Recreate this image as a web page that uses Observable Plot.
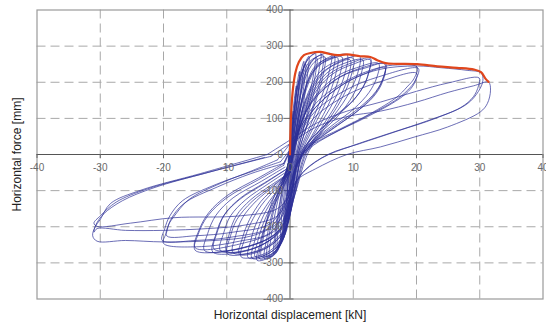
<!DOCTYPE html>
<html>
<head>
<meta charset="utf-8">
<script src="https://cdn.jsdelivr.net/npm/d3@7"></script>
<script src="https://cdn.jsdelivr.net/npm/@observablehq/plot@0.6"></script>
<style>
  html, body { margin: 0; padding: 0; background: #fff; }
  #chart svg { display: block; }
</style>
</head>
<body>
<div id="chart"></div>
<script>
// Tick values
const xTicks = [-40, -30, -20, -10, 0, 10, 20, 30, 40];
const yTicks = [-400, -300, -200, -100, 0, 100, 200, 300, 400];

// Envelope (red) of positive loading
const envelope = [[0,0],[0.18,113],[0.5,187],[0.87,228],[1.4,256],[2.2,275],[3.24,281],[4.8,284],[6.1,279],[7.5,275],[9,277],[11.1,272],[12.7,270],[13.8,261],[15.1,253],[16.9,251],[20.1,250],[23.3,244],[26.4,240],[29.1,235],[30.2,228],[30.9,210],[31.4,201]];

// Hysteresis cycles (blue)
const cycle01 = [[-0.3,-20],[0,40],[0.3,90],[0.5,120],[0.4,80],[0.1,20],[-0.2,-40],[-0.4,-90],[-0.5,-115],[-0.4,-70],[-0.2,-10]];
const cycle02 = [[-0.2,-10],[0.2,60],[0.6,140],[1,190],[0.9,150],[0.5,80],[0.1,0],[-0.3,-80],[-0.7,-150],[-1,-185],[-0.9,-140],[-0.5,-70],[-0.1,0]];
const cycle03 = [[0,0],[0.4,80],[0.9,170],[1.5,230],[1.4,190],[1,120],[0.5,40],[0,-40],[-0.5,-120],[-1,-190],[-1.5,-235],[-1.4,-190],[-1,-120],[-0.5,-50],[0,0]];
const cycle04 = [[0,0],[0.5,90],[1.2,190],[2.2,258],[2,215],[1.5,140],[0.8,50],[0.2,-40],[-0.4,-130],[-1.1,-210],[-2,-258],[-1.9,-210],[-1.4,-140],[-0.7,-60],[0,0]];
const cycle05 = [[0.1,0],[0.6,100],[1.5,210],[3,272],[2.8,225],[2.2,150],[1.3,60],[0.4,-40],[-0.4,-150],[-1.3,-230],[-2.6,-275],[-2.4,-225],[-1.8,-150],[-0.9,-70],[0,-10]];
const cycle06 = [[0.2,0],[0.8,110],[1.8,220],[2.8,262],[4,279],[3.8,230],[3,160],[1.8,70],[0.6,-30],[-0.3,-150],[-1.4,-240],[-2.2,-272],[-3.2,-283],[-3,-230],[-2.2,-150],[-1.1,-70],[0,-20]];
const cycle07 = [[0.2,0],[0.9,120],[2,230],[3.2,272],[4.8,282],[4.6,235],[3.7,165],[2.3,80],[0.8,-20],[-0.2,-150],[-1.4,-245],[-2.6,-280],[-4,-288],[-3.7,-235],[-2.8,-160],[-1.4,-80],[0,-30]];
const cycle08 = [[0.3,0],[1.1,110],[2.4,210],[3.8,255],[5.5,270],[5.3,225],[4.3,160],[2.7,80],[1,-20],[0,-150],[-1.2,-240],[-2.8,-275],[-4.5,-282],[-4.2,-230],[-3.2,-150],[-1.6,-80],[0,-30]];
const cycle09 = [[0.3,0],[1.2,120],[2.6,230],[4.2,270],[6.5,279],[6.2,230],[5,160],[3.2,80],[1.2,-10],[0,-140],[-1.2,-240],[-3,-282],[-5.2,-293],[-4.8,-250],[-4,-200],[-2.5,-140],[-1,-90],[0,-50]];
const cycle10 = [[0,-50],[0.8,40],[1.8,140],[3.5,225],[5.5,258],[7.5,268],[7.2,220],[5.8,150],[3.7,75],[1.5,-10],[0.2,-140],[-1.2,-235],[-3.2,-272],[-5.5,-283],[-5.1,-240],[-4.2,-190],[-2.6,-130],[-1,-85],[0,-50]];
const cycle11 = [[0,-50],[0.8,50],[2,160],[4,245],[6.5,268],[9,276],[8.7,225],[7,150],[4.5,75],[2,0],[0.5,-120],[-1,-220],[-3.5,-270],[-7.7,-284],[-7.2,-235],[-6.2,-190],[-4.5,-140],[-2,-90],[0,-50]];
const cycle12 = [[0,-50],[1,50],[2.5,150],[5,225],[7.5,252],[9.5,262],[9.2,215],[7.5,145],[5,75],[2.3,0],[0.6,-120],[-1,-215],[-4,-262],[-8,-276],[-7.5,-230],[-6.4,-180],[-4.6,-130],[-2,-85],[0,-45]];
const cycle13 = [[0,-45],[1,50],[2.6,150],[5.5,230],[8.5,262],[11,272],[10.7,225],[9,160],[6,85],[3,10],[0.8,-110],[-1,-210],[-4.5,-262],[-9.9,-275],[-9.4,-225],[-8.4,-180],[-6,-130],[-3,-90],[0,-50]];
const cycle14 = [[0,-50],[1.2,50],[3,150],[6,220],[9.5,252],[12.7,266],[12.5,230],[11.8,195],[10,150],[7,105],[4,55],[2,10],[0.8,-90],[-1.2,-200],[-5,-255],[-10,-268],[-9.6,-220],[-8.5,-170],[-6.2,-125],[-3,-85],[0,-50]];
const cycle15 = [[0,-50],[1.3,55],[3.2,150],[6.5,220],[10,250],[12.7,262],[12.4,225],[11.5,185],[9.5,140],[6.5,95],[3.5,45],[1.5,0],[0.3,-100],[-1.5,-210],[-6,-262],[-12.2,-270],[-11.7,-220],[-10.5,-170],[-8,-125],[-4,-80],[-0.5,-40]];
const cycle16 = [[-0.5,-40],[1,50],[3.2,140],[7,205],[11,238],[15,250],[14.7,210],[13.5,170],[11,125],[7.5,80],[4,35],[1.6,-10],[0.2,-110],[-1.5,-205],[-6,-252],[-12,-262],[-11.5,-215],[-10.3,-165],[-7.8,-120],[-4,-78],[-0.5,-40]];
const cycle17 = [[-0.5,-40],[1,50],[3.5,145],[8,215],[12,240],[15.1,252],[14.8,215],[13.6,175],[11,130],[7.5,85],[4,40],[1.5,-15],[0,-120],[-2,-215],[-8,-260],[-15,-265],[-14.5,-220],[-13,-170],[-10,-120],[-5,-70],[-1,-30]];
const cycle18 = [[-1,-30],[1,45],[4,130],[8.5,195],[12,225],[15,240],[14.6,200],[13.2,160],[10.5,118],[7,75],[3.5,30],[1.2,-20],[0,-120],[-2,-205],[-8,-248],[-15,-258],[-14.4,-210],[-12.8,-160],[-9.8,-112],[-5,-65],[-1,-25]];
const cycle19 = [[-1,-25],[1,50],[4,140],[9,205],[14,240],[17,248],[20.1,242],[19.6,210],[18.5,187],[16.9,159],[12.7,113],[7.5,67],[3,25],[1,-30],[-0.5,-130],[-3,-215],[-8,-240],[-14,-255],[-20,-246],[-19.5,-215],[-18.9,-182],[-16.8,-136],[-11.5,-90],[-6.2,-53],[-1,-25]];
const cycle20 = [[-1,-25],[1,40],[4,120],[9,180],[14,215],[20.3,238],[19.8,205],[18.6,178],[16.5,148],[12,105],[7,60],[3,20],[1,-30],[-0.5,-120],[-3,-200],[-9,-228],[-15,-238],[-20.2,-238],[-19.8,-205],[-19,-170],[-17,-128],[-12,-85],[-6.5,-50],[-1.5,-20]];
const cycle21 = [[-1.5,-20],[1,35],[4,105],[9,165],[14,200],[20,225],[19.6,195],[18.3,168],[16,140],[11.5,98],[6.5,55],[3,15],[1,-35],[-0.5,-115],[-3,-190],[-9,-215],[-15,-225],[-19.5,-225],[-19.2,-195],[-18.4,-173],[-16,-125],[-11,-80],[-6,-45],[-2,-15]];
const cycle22 = [[-2,-15],[0,30],[3,110],[8,190],[14,235],[20,245],[24,240],[28,233],[30.2,226],[30.5,205],[29.8,175],[28,140],[23,100],[17,65],[11,30],[6,0],[2,-50],[0,-120],[-2,-190],[-6,-225],[-12,-238],[-20,-242],[-26,-238],[-30.5,-240],[-31.2,-225],[-30.8,-200],[-30,-180],[-28.4,-136],[-23.6,-99],[-14.2,-53],[-3.6,0]];
const cycle23 = [[-3.6,0],[0,40],[4,85],[9,120],[14.3,145],[20,175],[25,198],[29.9,212],[29.8,190],[29,160],[27,130],[22,95],[16,60],[10,25],[5,-10],[1.5,-60],[0,-110],[-2,-170],[-7,-195],[-13,-205],[-20,-210],[-26,-210],[-30.5,-205],[-31,-215],[-30.7,-195],[-29.5,-165],[-26.5,-128],[-21.5,-92],[-13,-50],[-3,-5]];
const cycle24 = [[-3,-5],[0,30],[4,75],[9,105],[14.3,120],[20,145],[25,172],[29,190],[31.4,200],[31.7,178],[31.2,141],[30.1,118],[24.9,76],[19.6,48],[14.3,21],[9,0],[4,-40],[1,-72],[0,-110],[-2,-150],[-8,-170],[-18.4,-175],[-25.2,-190],[-30.5,-199],[-31,-190],[-30,-170],[-27.5,-132],[-22.5,-95],[-13.5,-52],[-4,-8]];
const cycle25 = [[0,-10],[0.5,90],[1.2,185],[2.5,250],[2.3,205],[1.7,130],[0.9,40],[0.2,-60],[-0.5,-150],[-1.3,-225],[-2.3,-262],[-2.1,-205],[-1.5,-130],[-0.7,-50],[0,-10]];
const cycle26 = [[0.1,-5],[0.8,100],[1.8,205],[3,255],[4.2,268],[4,220],[3.2,150],[2,65],[0.7,-35],[-0.3,-160],[-1.5,-245],[-2.5,-275],[-3.6,-284],[-3.3,-225],[-2.5,-150],[-1.2,-75],[0,-20]];
const cycle27 = [[0.2,-10],[1,105],[2.2,215],[3.6,262],[5.2,275],[5,225],[4,155],[2.5,72],[0.9,-25],[-0.1,-150],[-1.3,-238],[-2.8,-276],[-4.8,-289],[-4.5,-240],[-3.6,-180],[-2,-110],[-0.6,-55],[0.2,-10]];
const cycle28 = [[0,-40],[0.9,60],[2,160],[3.8,235],[5.5,263],[7,272],[6.7,225],[5.4,155],[3.4,75],[1.3,-10],[0.1,-140],[-1.2,-238],[-3.1,-277],[-6,-287],[-5.6,-240],[-4.6,-185],[-2.8,-125],[-1.1,-80],[0,-40]];
const cycle29 = [[0,-40],[0.9,55],[2.2,160],[4.2,240],[6.2,262],[8.2,270],[7.9,222],[6.4,150],[4.1,72],[1.8,-5],[0.4,-130],[-1,-230],[-3.3,-273],[-6.6,-286],[-6.2,-238],[-5.2,-185],[-3.3,-130],[-1.3,-85],[0,-45]];
const cycle30 = [[0,-45],[1,50],[2.4,150],[4.8,230],[7.5,258],[10,266],[9.7,220],[8.2,155],[5.5,80],[2.6,5],[0.7,-115],[-1,-215],[-4.2,-262],[-9,-272],[-8.6,-225],[-7.5,-175],[-5.3,-128],[-2.6,-88],[0,-48]];
const cycle31 = [[0,-48],[1.1,50],[2.8,150],[5.8,225],[9,255],[11.5,262],[11.2,220],[10,165],[7.5,105],[4.5,55],[2,5],[0.7,-100],[-1.2,-205],[-5.5,-258],[-11,-266],[-10.5,-218],[-9.4,-170],[-7,-125],[-3.5,-82],[-0.3,-45]];
const cycle32 = [[-0.3,-45],[1.1,50],[3.3,145],[7,212],[10.5,240],[14,252],[13.7,212],[12.5,172],[10.2,128],[7,85],[3.8,40],[1.5,-5],[0.2,-110],[-1.6,-208],[-7,-256],[-13.5,-266],[-13,-218],[-11.7,-168],[-9,-120],[-4.5,-74],[-0.8,-35]];

const cycles = [cycle01, cycle02, cycle03, cycle04, cycle05, cycle25, cycle06, cycle26,
  cycle07, cycle27, cycle08, cycle09, cycle28, cycle10, cycle29, cycle11, cycle12,
  cycle30, cycle13, cycle31, cycle14, cycle15, cycle32, cycle16, cycle17,
  cycle18, cycle19, cycle20, cycle21, cycle22, cycle23, cycle24];

const yTitle = "Horizontal force [mm]";
const xTitle = "Horizontal displacement [kN]";
const xDomain = [-40, 40];
const yDomain = [-400, 400];

const loopRows = cycles.flatMap((c, i) => c.map(([x, y]) => ({x, y, cycle: i})));
const envRows = envelope.map(([x, y]) => ({x, y}));
const xGrid = xTicks.filter(d => d !== 0 && d !== xDomain[0] && d !== xDomain[1]);
const yGrid = yTicks.filter(d => d !== 0 && d !== yDomain[0] && d !== yDomain[1]);

const chart = Plot.plot({
  width: 546,
  height: 328,
  marginLeft: 36.5,
  marginRight: 3.5,
  marginTop: 9.5,
  marginBottom: 29.5,
  x: {domain: xDomain, axis: null},
  y: {domain: yDomain, axis: null},
  style: {fontFamily: "Liberation Sans, Arial, sans-serif", background: "#fff"},
  marks: [
    Plot.ruleX(xGrid, {x: d => d, stroke: "#a8a8a8", strokeDasharray: "9,5"}),
    Plot.ruleY(yGrid, {y: d => d, stroke: "#a8a8a8", strokeDasharray: "9,5"}),
    Plot.frame({stroke: "#9a9a9a", strokeWidth: 1.2}),
    Plot.ruleY([0], {stroke: "#555", strokeWidth: 1}),
    Plot.ruleX([0], {stroke: "#555", strokeWidth: 1}),
    Plot.ruleY(yTicks, {y: d => d, x1: 0, x2: 0, insetLeft: -6, insetRight: -4, stroke: "#666"}),
    Plot.ruleX(xTicks, {x: d => d, y1: 0, y2: 0, insetTop: 0, insetBottom: -4, stroke: "#666"}),
    Plot.line(loopRows, {x: "x", y: "y", z: "cycle", stroke: "#2c2f96", strokeWidth: 0.7, curve: "catmull-rom"}),
    Plot.line(envRows, {x: "x", y: "y", stroke: "#e0461c", strokeWidth: 2.2, curve: "catmull-rom"}),
    Plot.text(yTicks, {x: 0, y: d => d, text: d => String(d), dx: -7, textAnchor: "end", fill: "#6a6a6a", fontSize: 10}),
    Plot.text(xTicks, {x: d => d, y: 0, text: d => String(d), dy: 13, fill: "#6a6a6a", fontSize: 10}),
    Plot.text([yTitle], {x: xDomain[0], y: (yDomain[0] + yDomain[1]) / 2, rotate: -90, textAnchor: "middle", dx: -20, fill: "#222", fontSize: 12}),
    Plot.text([xTitle], {frameAnchor: "bottom", textAnchor: "middle", dy: 20, fill: "#222", fontSize: 12})
  ]
});

document.getElementById("chart").appendChild(chart);
</script>
</body>
</html>
